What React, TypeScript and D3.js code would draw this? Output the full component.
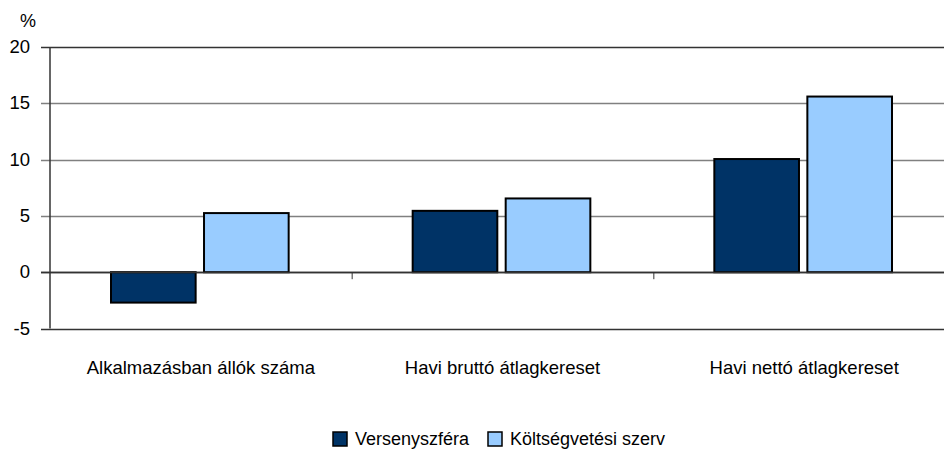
import React, { useEffect, useRef } from "react";
import * as d3 from "d3";

const categories = ["Alkalmazásban állók száma", "Havi bruttó átlagkereset", "Havi nettó átlagkereset"];
const seriesNames = ["Versenyszféra", "Költségvetési szerv"];
const versenyszfera = [-2.7, 5.45, 10.05];
const koltsegvetesi = [5.25, 6.55, 15.6];
const yTicks = [-5, 0, 5, 10, 15, 20];
const colors = ["#003366", "#99CCFF"];

const App = () => {
  const svgRef = useRef<SVGSVGElement>(null);

  useEffect(() => {
    document.body.style.margin = "0";
    const svg = d3.select(svgRef.current);
    svg.selectAll("*").remove();

    const w = 944;
    const h = 454;
    const font = "'Liberation Sans', Arial, sans-serif";

    // scales
    const x = d3.scaleBand().domain(categories).range([50, 955]);
    const x1 = d3
      .scaleBand()
      .domain(seriesNames)
      .range([61, x.bandwidth() - 63])
      .paddingInner(0.09);
    const y = d3.scaleLinear().domain([-5, 20]).range([328.5, 47]);

    const values = [versenyszfera, koltsegvetesi];

    // grid lines
    svg
      .append("g")
      .selectAll("line")
      .data(yTicks)
      .join("line")
      .attr("x1", 41)
      .attr("x2", w)
      .attr("y1", (d) => Math.round(y(d)) + 0.5)
      .attr("y2", (d) => Math.round(y(d)) + 0.5)
      .attr("stroke", (d) => (d === 20 || d === -5 || d === 0 ? "#333333" : "#808080"))
      .attr("stroke-width", 1.5);

    // y labels
    svg
      .append("g")
      .selectAll("text")
      .data(yTicks)
      .join("text")
      .attr("x", 30)
      .attr("y", (d) => y(d) + 6)
      .attr("text-anchor", "end")
      .style("font-family", font)
      .style("font-size", "18.5px")
      .text((d) => d);

    svg
      .append("text")
      .attr("x", 20)
      .attr("y", 27)
      .style("font-family", font)
      .style("font-size", "18px")
      .text("%");

    // bars
    seriesNames.forEach((s, i) => {
      svg
        .append("g")
        .selectAll("rect")
        .data(values[i])
        .join("rect")
        .attr("x", (_, j) => (x(categories[j]) as number) + (x1(s) as number))
        .attr("y", (d) => y(Math.max(0, d)))
        .attr("width", x1.bandwidth())
        .attr("height", (d) => Math.abs(y(d) - y(0)))
        .attr("fill", colors[i])
        .attr("stroke", "#000")
        .attr("stroke-width", 2);
    });

    // zero line on top
    svg
      .append("line")
      .attr("x1", 41)
      .attr("x2", w)
      .attr("y1", Math.round(y(0)) + 0.5)
      .attr("y2", Math.round(y(0)) + 0.5)
      .attr("stroke", "#333333")
      .attr("stroke-width", 1.5);

    // category ticks
    svg
      .append("g")
      .selectAll("line")
      .data(categories.slice(1))
      .join("line")
      .attr("x1", (d) => (x(d) as number) + 0.5)
      .attr("x2", (d) => (x(d) as number) + 0.5)
      .attr("y1", y(0))
      .attr("y2", y(0) + 7)
      .attr("stroke", "#333333")
      .attr("stroke-width", 1);

    // y axis line
    svg
      .append("line")
      .attr("x1", 50)
      .attr("x2", 50)
      .attr("y1", y(20))
      .attr("y2", y(-5))
      .attr("stroke", "#333333")
      .attr("stroke-width", 1.5);

    // category labels
    svg
      .append("g")
      .selectAll("text")
      .data(categories)
      .join("text")
      .attr("x", (d) => (x(d) as number) + x.bandwidth() / 2)
      .attr("y", 374)
      .attr("text-anchor", "middle")
      .style("font-family", font)
      .style("font-size", "18.5px")
      .text((d) => d);

    // legend
    const lx = [333, 488];
    const legend = svg.append("g");
    seriesNames.forEach((s, i) => {
      legend
        .append("rect")
        .attr("x", lx[i])
        .attr("y", 432)
        .attr("width", 14)
        .attr("height", 14)
        .attr("fill", colors[i])
        .attr("stroke", "#000")
        .attr("stroke-width", 1.5);
      legend
        .append("text")
        .attr("x", lx[i] + 22)
        .attr("y", 445)
        .style("font-family", font)
        .style("font-size", "18px")
        .text(s);
    });

    svg.attr("width", w).attr("height", h);
  }, []);

  return (
    <svg
      ref={svgRef}
      style={{ position: "absolute", left: 0, top: 0, display: "block", background: "#fff", overflow: "hidden" }}
    ></svg>
  );
};

export default App;
